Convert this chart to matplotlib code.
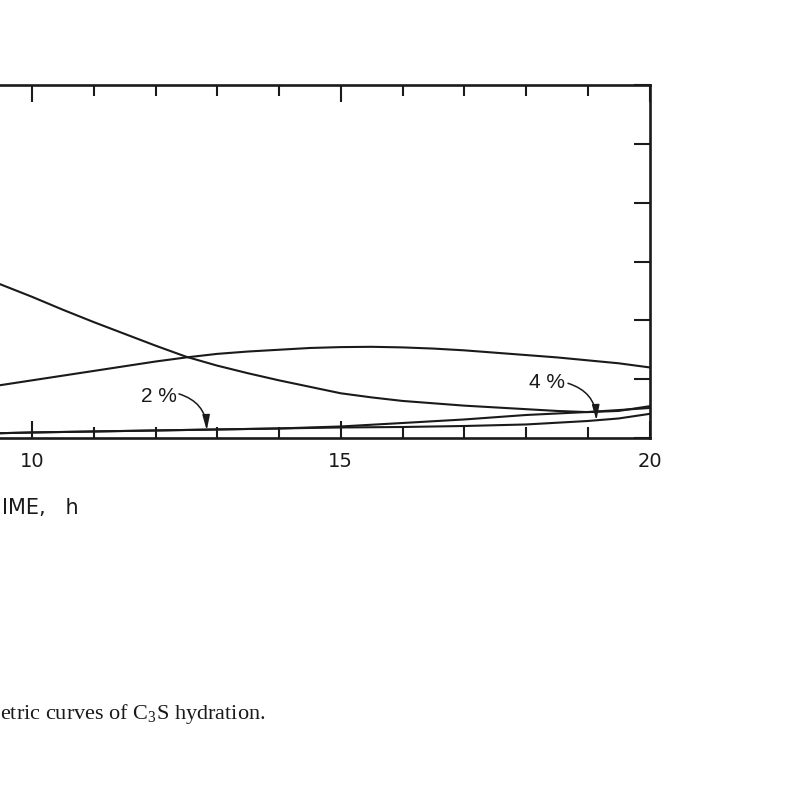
import matplotlib
matplotlib.use("Agg")
import matplotlib.pyplot as plt
from matplotlib.ticker import MultipleLocator

plt.rcParams['mathtext.fontset'] = 'custom'
plt.rcParams['mathtext.rm'] = 'Liberation Serif'
plt.rcParams['mathtext.it'] = 'Liberation Serif:italic'

# ---- data (time in h, relative heat-flow units) ----
time_main = [9.3, 10, 10.5, 11, 11.5, 12, 12.5, 13, 13.5, 14, 14.5, 15, 15.5,
             16, 16.5, 17, 17.5, 18, 18.5, 19, 19.5, 20]
curve_decreasing = [2.69, 2.40, 2.18, 1.97, 1.77, 1.57, 1.38, 1.23, 1.10, 0.98,
                    0.87, 0.76, 0.69, 0.63, 0.59, 0.55, 0.52, 0.49, 0.46, 0.44,
                    0.46, 0.54]

time_hump = [9.3, 9.5, 10, 10.5, 11, 11.5, 12, 12.5, 13, 13.5, 14, 14.5, 15,
             15.5, 16, 16.5, 17, 17.5, 18, 18.5, 19, 19.5, 20]
curve_hump = [0.87, 0.90, 0.98, 1.06, 1.14, 1.22, 1.30, 1.37, 1.43, 1.47, 1.50,
              1.53, 1.545, 1.55, 1.54, 1.52, 1.49, 1.45, 1.41, 1.37, 1.32, 1.27,
              1.20]

time_low = [9.3, 10, 11, 12, 13, 14, 15, 16, 17, 18, 19, 19.5, 20]
curve_4pct = [0.077, 0.094, 0.111, 0.128, 0.145, 0.162, 0.179, 0.187, 0.204,
              0.230, 0.289, 0.332, 0.410]
curve_2pct = [0.077, 0.094, 0.111, 0.128, 0.145, 0.162, 0.196, 0.255, 0.315,
              0.391, 0.442, 0.475, 0.510]

xticks_major = [10, 15, 20]
xticklabels = ["10", "15", "20"]

W, H = 800, 787
fig = plt.figure(figsize=(W / 100, H / 100), dpi=100)

# axes extends beyond the left edge of the (cropped) figure
x_left_px, x_right_px = -585.5, 649.5
y_top_px, y_bot_px = 85, 438
ax = fig.add_axes([x_left_px / W, 1 - y_bot_px / H,
                   (x_right_px - x_left_px) / W, (y_bot_px - y_top_px) / H])
ax.set_xlim(0, 20)
ax.set_ylim(0, 6)

lw = 1.5
col = "#1a1a1a"
ax.plot(time_main, curve_decreasing, color=col, lw=lw)
ax.plot(time_hump, curve_hump, color=col, lw=lw)
ax.plot(time_low, curve_4pct, color=col, lw=lw)
ax.plot(time_low, curve_2pct, color=col, lw=lw)

for s in ax.spines.values():
    s.set_linewidth(1.9)
    s.set_color(col)

ax.xaxis.set_major_locator(MultipleLocator(5))
ax.xaxis.set_minor_locator(MultipleLocator(1))
ax.yaxis.set_major_locator(MultipleLocator(1))
ax.tick_params(axis='x', which='major', direction='in', length=12.5, width=1.5,
               top=True, bottom=True, colors=col, pad=10)
ax.tick_params(axis='x', which='minor', direction='in', length=8, width=1.5,
               top=True, bottom=True, colors=col)
ax.tick_params(axis='y', which='major', direction='in', length=11.5, width=1.5,
               left=True, right=True, labelleft=False, labelright=False, colors=col)
ax.set_xticks(xticks_major)
ax.set_xticklabels(xticklabels, family=['DejaVu Sans'], fontsize=14, color=col)

# annotations
ax.annotate("", xy=(12.83, 0.13), xytext=(12.38, 0.75),
            arrowprops=dict(arrowstyle="-|>,head_length=0.9,head_width=0.22",
                            connectionstyle="arc3,rad=-0.35", color=col, lw=1.1,
                            shrinkA=0, shrinkB=0))
ax.text(12.05, 0.70, "2 %", family=['Liberation Sans'], fontsize=15,
        ha='center', va='center', color=col)

ax.annotate("", xy=(19.14, 0.30), xytext=(18.68, 0.93),
            arrowprops=dict(arrowstyle="-|>,head_length=0.9,head_width=0.22",
                            connectionstyle="arc3,rad=-0.35", color=col, lw=1.1,
                            shrinkA=0, shrinkB=0))
ax.text(18.34, 0.95, "4 %", family=['Liberation Sans'], fontsize=15,
        ha='center', va='center', color=col)

# axis title (visible part of the cropped original)
fig.text(2 / W, 1 - 508 / H, "IME,   h", family=['DejaVu Sans'], fontsize=15,
         ha='left', va='center', color=col)

# caption (visible part of the cropped original)
fig.text(0, 1 - 714 / H, "etric curves of C$_3$S hydration.",
         family=['Liberation Serif'], fontsize=16, ha='left', va='center',
         color=col)

fig.savefig("out.png", dpi=100)
